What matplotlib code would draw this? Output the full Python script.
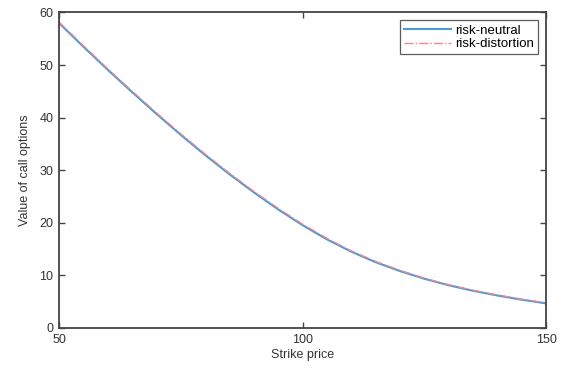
import numpy as np
import matplotlib.pyplot as plt

# data
strike = [50, 55, 60, 65, 70, 75, 80, 85, 90, 95, 100,
          105, 110, 115, 120, 125, 130, 135, 140, 145, 150]
risk_neutral = [58.0, 53.5, 49.1, 44.85, 40.7, 36.7, 32.85, 29.2, 25.75, 22.5, 19.5,
                16.8, 14.45, 12.45, 10.75, 9.3, 8.05, 7.0, 6.1, 5.3, 4.6]
risk_distortion = [58.2, 53.7, 49.3, 45.05, 40.9, 36.9, 33.05, 29.4, 25.95, 22.7, 19.7,
                   17.0, 14.6, 12.6, 10.9, 9.4, 8.15, 7.1, 6.2, 5.4, 4.7]

plt.rcParams['font.family'] = ['Liberation Sans', 'DejaVu Sans']

fig = plt.figure(figsize=(5.65, 3.72), dpi=100)
ax = fig.add_axes([0.1044, 0.1196, 0.862, 0.8468])

ax.plot(strike, risk_neutral, color='#4a9ad8', linewidth=1.5, label='risk-neutral')
ax.plot(strike, risk_distortion, color='#f08a8a', linewidth=1.0, linestyle='-.',
        label='risk-distortion')

ax.set_xlim(50, 150)
ax.set_ylim(0, 60)
ax.set_xticks([50, 100, 150])
ax.set_yticks([0, 10, 20, 30, 40, 50, 60])
ax.tick_params(direction='in', length=4, width=1.0, colors='#444444',
               labelcolor='#333333', labelsize=9, top=True, right=True)
ax.tick_params(axis='x', pad=5)
ax.tick_params(axis='y', pad=4)
for s in ax.spines.values():
    s.set_color('#444444')
    s.set_linewidth(1.3)

ax.set_xlabel('Strike price', fontsize=9, color='#333333', labelpad=2)
ax.set_ylabel('Value of call options', fontsize=9, color='#333333', labelpad=6)

leg = ax.legend(loc='upper right', fontsize=9.5, frameon=True, fancybox=False,
                handlelength=3.6, borderpad=0.3, labelspacing=0.1,
                handletextpad=0.3, borderaxespad=0.6)
leg.get_frame().set_edgecolor('#333333')
leg.get_frame().set_linewidth(0.9)

fig.savefig('out.png', dpi=100)
